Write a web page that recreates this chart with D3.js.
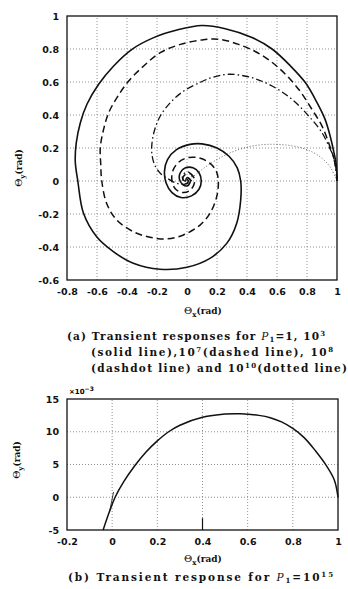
<!DOCTYPE html>
<html>
<head>
<meta charset="utf-8">
<script src="https://cdn.jsdelivr.net/npm/d3@7"></script>
<style>
  body { margin: 0; background: #fff; }
  svg { display: block; }
  .tick text { font-family: "DejaVu Sans", sans-serif; font-weight: bold; font-size: 9.5px; fill: #111; }
  .cap { font-family: "DejaVu Serif", serif; font-weight: bold; font-size: 10.5px; fill: #111; }
  .lab { font-family: "DejaVu Serif", serif; font-weight: bold; font-size: 9px; fill: #111; }
</style>
</head>
<body>
<svg width="348" height="589"></svg>
<script>
// (a) phase trajectories, points as [theta_x, theta_y]
const solidLine = [
  [1.0, 0.0], [0.995, 0.1], [0.978, 0.18], [0.955, 0.27], [0.92, 0.375], [0.867, 0.475],
  [0.79, 0.595], [0.69, 0.697], [0.567, 0.8], [0.433, 0.87], [0.255, 0.923], [0.1, 0.942],
  [-0.067, 0.915], [-0.222, 0.869], [-0.367, 0.798], [-0.489, 0.697], [-0.589, 0.586],
  [-0.667, 0.465], [-0.711, 0.353], [-0.738, 0.232], [-0.745, 0.12], [-0.728, 0.0],
  [-0.69, -0.196], [-0.602, -0.338], [-0.491, -0.428], [-0.358, -0.499], [-0.18, -0.535],
  [0.0, -0.523], [0.153, -0.469], [0.265, -0.378], [0.331, -0.257], [0.358, -0.115],
  [0.358, 0.0], [0.335, 0.08], [0.28, 0.15], [0.2, 0.2], [0.1, 0.225], [0.02, 0.222],
  [-0.07, 0.19], [-0.13, 0.13], [-0.15, 0.06], [-0.14, -0.01], [-0.1, -0.07], [-0.04, -0.1],
  [0.03, -0.09], [0.08, -0.05], [0.095, 0.0], [0.08, 0.05], [0.04, 0.08], [-0.01, 0.08],
  [-0.045, 0.05], [-0.05, 0.01], [-0.03, -0.02], [0.0, -0.03], [0.02, -0.01], [0.02, 0.01],
  [0.0, 0.02], [-0.01, 0.0]
];
const dashedLine = [
  [1.0, 0.0], [0.99, 0.1], [0.944, 0.232], [0.9, 0.333], [0.833, 0.434], [0.744, 0.556],
  [0.622, 0.677], [0.489, 0.768], [0.344, 0.828], [0.211, 0.859], [0.1, 0.855],
  [-0.044, 0.828], [-0.178, 0.778], [-0.289, 0.697], [-0.389, 0.606], [-0.467, 0.505],
  [-0.522, 0.414], [-0.556, 0.313], [-0.578, 0.202], [-0.575, 0.1], [-0.569, 0.006],
  [-0.536, -0.135], [-0.469, -0.236], [-0.358, -0.307], [-0.247, -0.341], [-0.135, -0.351],
  [-0.024, -0.327], [0.087, -0.267], [0.153, -0.196], [0.198, -0.095], [0.209, 0.0],
  [0.195, 0.06], [0.15, 0.11], [0.08, 0.14], [0.0, 0.14], [-0.06, 0.11], [-0.095, 0.06],
  [-0.1, 0.0], [-0.075, -0.05], [-0.03, -0.07], [0.015, -0.06], [0.045, -0.025], [0.05, 0.01],
  [0.03, 0.04], [0.0, 0.045], [-0.025, 0.025], [-0.025, 0.0], [-0.01, -0.015], [0.005, -0.01],
  [0.008, 0.005], [0.0, 0.01]
];
const dashdotLine = [
  [1.0, 0.0], [0.99, 0.08], [0.975, 0.15], [0.955, 0.192], [0.9, 0.293], [0.811, 0.394],
  [0.7, 0.495], [0.567, 0.576], [0.433, 0.626], [0.278, 0.647], [0.17, 0.628], [0.1, 0.603],
  [-0.022, 0.545], [-0.111, 0.475], [-0.178, 0.394], [-0.218, 0.303], [-0.235, 0.212],
  [-0.232, 0.15], [-0.21, 0.087], [-0.17, 0.04], [-0.12, 0.01], [-0.069, -0.014],
  [-0.02, -0.02], [0.02, -0.005], [0.035, 0.02], [0.025, 0.045], [0.0, 0.055],
  [-0.025, 0.04], [-0.03, 0.015], [-0.015, 0.0], [0.005, 0.005], [0.01, 0.02], [0.0, 0.025]
];
const dottedLine = [
  [1.0, 0.0], [0.987, 0.026], [0.953, 0.087], [0.887, 0.147], [0.8, 0.19], [0.7, 0.213],
  [0.6, 0.222], [0.5, 0.22], [0.4, 0.205], [0.3, 0.175], [0.2, 0.13], [0.1, 0.07],
  [0.02, 0.012], [0.0, 0.0]
];

// (b) rho = 10^15, theta_y in units of 1e-3
const highGain = [
  [1.0, 0.0], [0.984, 2.6], [0.947, 4.9], [0.9, 7.1], [0.85, 9.1], [0.8, 10.5],
  [0.75, 11.5], [0.7, 12.15], [0.65, 12.5], [0.569, 12.75], [0.5, 12.7], [0.4, 12.2],
  [0.3, 11.0], [0.25, 10.0], [0.2, 8.6], [0.15, 6.9], [0.1, 4.8], [0.05, 2.3],
  [0.013, 0.0], [-0.01, -2.0], [-0.04, -5.0]
];
const stubA = [[-0.012, -2.3], [0.006, 0.8]];
const stubB = [[0.4, -5.0], [0.4, -3.2]];

const xTicksA = [-0.8, -0.6, -0.4, -0.2, 0, 0.2, 0.4, 0.6, 0.8, 1];
const yTicksA = [-0.6, -0.4, -0.2, 0, 0.2, 0.4, 0.6, 0.8, 1];
const xTicksB = [-0.2, 0, 0.2, 0.4, 0.6, 0.8, 1];
const yTicksB = [-5, 0, 5, 10, 15];

const svg = d3.select('svg');
const fmt = d => (d < 0 ? '-' : '') + String(Math.abs(d));

function panel(xd, yd, xr, yr, xt, yt) {
  const x = d3.scaleLinear().domain(xd).range(xr);
  const y = d3.scaleLinear().domain(yd).range(yr);
  const g = svg.append('g');
  // grid
  g.selectAll('.vg').data(xt.slice(1, -1)).enter().append('line')
    .attr('x1', d => x(d)).attr('x2', d => x(d))
    .attr('y1', yr[0]).attr('y2', yr[1])
    .attr('stroke', '#777').attr('stroke-width', 0.8).attr('stroke-dasharray', '1,2');
  g.selectAll('.hg').data(yt.slice(1, -1)).enter().append('line')
    .attr('y1', d => y(d)).attr('y2', d => y(d))
    .attr('x1', xr[0]).attr('x2', xr[1])
    .attr('stroke', '#777').attr('stroke-width', 0.8).attr('stroke-dasharray', '1,2');
  // axes
  g.append('g').attr('transform', `translate(0,${yr[0]})`)
    .call(d3.axisBottom(x).tickValues(xt).tickFormat(fmt).tickSize(0).tickPadding(8))
    .call(a => a.select('.domain').remove());
  g.append('g').attr('transform', `translate(${xr[0]},0)`)
    .call(d3.axisLeft(y).tickValues(yt).tickFormat(fmt).tickSize(0).tickPadding(8))
    .call(a => a.select('.domain').remove());
  g.append('rect')
    .attr('x', xr[0]).attr('y', yr[1])
    .attr('width', xr[1] - xr[0]).attr('height', yr[0] - yr[1])
    .attr('fill', 'none').attr('stroke', '#111').attr('stroke-width', 1.3);
  return { x, y, g };
}

function draw(p, pts, width, dash, color, curve) {
  const line = d3.line().x(d => p.x(d[0])).y(d => p.y(d[1]))
    .curve(curve || d3.curveCatmullRom.alpha(0.5));
  p.g.append('path').datum(pts).attr('d', line)
    .attr('fill', 'none').attr('stroke', color || '#111')
    .attr('stroke-width', width).attr('stroke-dasharray', dash || null)
    .attr('stroke-linejoin', 'round');
}

function axisLabel(x, y, rot) {
  const t = svg.append('text').attr('class', 'lab')
    .attr('transform', `translate(${x},${y}) rotate(${rot})`)
    .attr('text-anchor', 'middle');
  t.append('tspan').text('Θ').style('font-size', '10px').style('font-weight', 'normal');
  t.append('tspan').text(rot ? 'y' : 'x').attr('dy', 2.5).style('font-size', '7px');
  t.append('tspan').text('(rad)').attr('dy', -2.5);
}

// panel (a)
const pa = panel([-0.8, 1], [-0.6, 1], [67, 337], [280, 16], xTicksA, yTicksA);
draw(pa, dottedLine, 0.9, '1,2', '#555');
draw(pa, dashdotLine, 1.3, '7,3,1.5,3');
draw(pa, dashedLine, 1.5, '7,4');
draw(pa, solidLine, 1.6);
axisLabel(203, 314, 0);
axisLabel(22, 168, -90);

// panel (b)
const pb = panel([-0.2, 1], [-5, 15], [67, 338], [530, 399], xTicksB, yTicksB);
draw(pb, highGain, 1.5);
draw(pb, stubA, 0.8, null, '#111', d3.curveLinear);
draw(pb, stubB, 1.2, null, '#111', d3.curveLinear);
axisLabel(203, 562, 0);
axisLabel(20, 460, -90);
svg.append('text').attr('x', 69).attr('y', 394)
  .style('font-family', 'DejaVu Sans, sans-serif').style('font-size', '7px').style('font-weight', 'bold')
  .text('×10').append('tspan').text('−3').attr('dy', -3).style('font-size', '6px');

// captions
function caption(x, y, len, parts) {
  const t = svg.append('text').attr('class', 'cap').attr('x', x).attr('y', y)
    .attr('textLength', len).attr('lengthAdjust', 'spacing');
  parts.forEach(p => {
    const s = t.append('tspan').text(p[0]);
    if (p[1] === 'sup') s.attr('dy', -4).style('font-size', '7px');
    if (p[1] === 'down') s.attr('dy', 4);
    if (p[1] === 'it') s.style('font-style', 'italic').style('font-weight', 'normal');
    if (p[1] === 'sub') s.attr('dy', 2).style('font-size', '7px');
    if (p[1] === 'up') s.attr('dy', -2);
  });
}
caption(67, 340, 258, [['(a) Transient responses for '], ['P', 'it'], ['1', 'sub'], ['=1, 10', 'up'], ['3', 'sup']]);
caption(91, 356, 242, [['(solid line),10'], ['7', 'sup'], ['(dashed line), 10', 'down'], ['8', 'sup']]);
caption(91, 372, 256, [['(dashdot line) and 10'], ['10', 'sup'], ['(dotted line)', 'down']]);
caption(68, 581, 265, [['(b) Transient response for '], ['P', 'it'], ['1', 'sub'], ['=10', 'up'], ['15', 'sup']]);
</script>
</body>
</html>
